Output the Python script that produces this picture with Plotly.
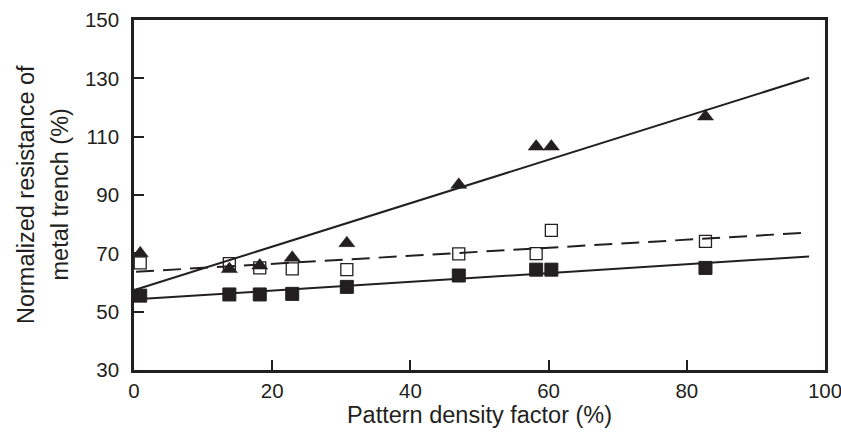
import numpy as np
import plotly.graph_objects as go

# Pattern density factor (%)
density = [0.9, 13.8, 18.2, 22.9, 30.8, 47.0, 58.2, 60.4, 82.7]
# Normalized resistance (%)
res_triangle = [70.0, 64.6, 65.8, 68.5, 73.5, 93.5, 106.6, 106.6, 116.9]
res_open_sq = [66.7, 66.5, 65.0, 64.7, 64.4, 69.8, 69.9, 77.9, 74.1]
res_filled_sq = [55.5, 55.9, 55.9, 56.1, 58.5, 62.4, 64.4, 64.4, 65.0]
# x-span over which the linear fits are drawn
fit_span = [0.3, 97.7]

x_ticks = [0, 20, 40, 60, 80, 100]
y_ticks = [30, 50, 70, 90, 110, 130, 150]
y_title_lines = ["Normalized resistance of", "metal trench (%)"]

INK = "#231f20"
FONT = "Liberation Sans, Arial, sans-serif"


def fit_line(xs, ys, span):
    k, b = np.polyfit(xs, ys, 1)
    xx = np.array(span, dtype=float)
    return xx, k * xx + b


fig = go.Figure()

# fitted trend lines
for ys, dash in [(res_triangle, "solid"), (res_open_sq, "18px,9px"), (res_filled_sq, "solid")]:
    fx, fy = fit_line(density, ys, fit_span)
    fig.add_trace(go.Scatter(x=fx, y=fy, mode="lines",
                             line=dict(color=INK, width=2, dash=dash),
                             showlegend=False, hoverinfo="skip"))

fig.add_trace(go.Scatter(x=density, y=res_triangle, mode="markers", name="triangle",
                         marker=dict(symbol="triangle-up", size=14, color=INK,
                                     line=dict(width=0.5, color=INK)),
                         showlegend=False))
fig.add_trace(go.Scatter(x=density, y=res_open_sq, mode="markers", name="open square",
                         marker=dict(symbol="square-open", size=12, color=INK,
                                     line=dict(width=1.3, color=INK)),
                         showlegend=False))
fig.add_trace(go.Scatter(x=density, y=res_filled_sq, mode="markers", name="filled square",
                         marker=dict(symbol="square", size=13, color=INK,
                                     line=dict(width=1, color=INK)),
                         showlegend=False))

axis_common = dict(
    showgrid=False, zeroline=False,
    showline=True, linecolor=INK, linewidth=2.5, mirror=True,
    ticks="inside", ticklen=10, tickwidth=2, tickcolor=INK,
    ticklabeloverflow="allow",
    tickfont=dict(family=FONT, size=20.5, color=INK),
)

fig.update_xaxes(range=[0, 100], tickvals=x_ticks, ticktext=[str(v) for v in x_ticks],
                 ticklabelstandoff=1,
                 title=dict(text="Pattern density factor (%)", standoff=4,
                            font=dict(family=FONT, size=23.5, color=INK)),
                 **axis_common)
fig.update_yaxes(range=[30, 150], tickvals=y_ticks, ticktext=[str(v) for v in y_ticks],
                 ticklabelstandoff=8, **axis_common)

# two-line y-axis title (rotated), placed left of the tick labels
for text, shift in zip(y_title_lines, [-108, -74.5]):
    fig.add_annotation(text=text, textangle=-90, xref="paper", yref="paper",
                       x=0, y=0.5, xanchor="center", yanchor="middle",
                       xshift=shift, showarrow=False,
                       font=dict(family=FONT, size=23.5, color=INK))

fig.update_layout(
    width=841, height=442,
    margin=dict(l=134, r=16, t=20, b=72, autoexpand=False),
    paper_bgcolor="white", plot_bgcolor="white",
    font=dict(family=FONT, color=INK),
)

fig.write_html("out.html", config={"displayModeBar": False},
               post_script="document.body.style.margin='0px';")
